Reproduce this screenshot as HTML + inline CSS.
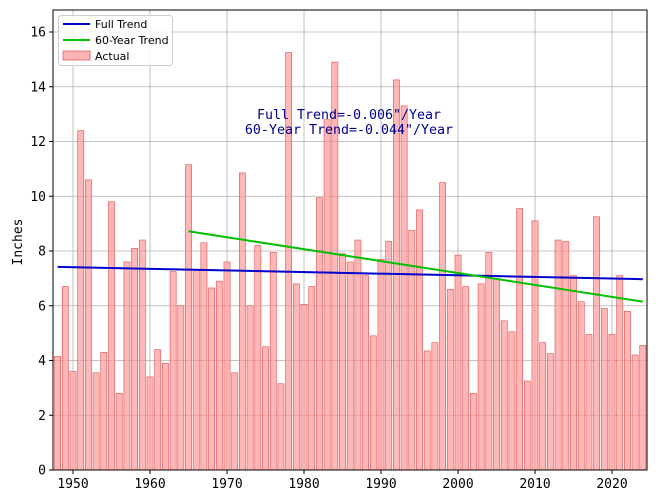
<!DOCTYPE html>
<html><head><style>
body{margin:0;background:#fff;}
svg text{font-family:"DejaVu Sans Mono","Liberation Mono",monospace;}
</style></head><body>
<svg id="s" width="660" height="495" xmlns="http://www.w3.org/2000/svg">
<rect width="660" height="495" fill="#fff"/>
<g id="grid"></g>
<g id="bars"></g>
<g id="lines"></g>
<rect x="53" y="10" width="594" height="460" fill="none" stroke="#000" stroke-width="1"/>
<g id="ticks" font-size="13" fill="#000"></g>
<text x="22" y="242" font-size="13" transform="rotate(-90 22 242)" text-anchor="middle">Inches</text>
<text x="349" y="119" font-size="13.3" fill="#00008b" text-anchor="middle">Full Trend=-0.006"/Year</text>
<text x="349" y="134" font-size="13.3" fill="#00008b" text-anchor="middle">60-Year Trend=-0.044"/Year</text>
<g>
<rect x="58.5" y="15.5" width="114" height="50" rx="3" fill="#fff" fill-opacity="0.8" stroke="#ccc"/>
<line x1="63" y1="24" x2="90" y2="24" stroke="#0000cd" stroke-width="2"/>
<text x="95" y="28" font-size="11" style="font-family:'DejaVu Sans','Liberation Sans',sans-serif">Full Trend</text>
<line x1="63" y1="40" x2="90" y2="40" stroke="#00c000" stroke-width="2"/>
<text x="95" y="44" font-size="11" style="font-family:'DejaVu Sans','Liberation Sans',sans-serif">60-Year Trend</text>
<rect x="63" y="51" width="27" height="9" fill="#ffb3b3" stroke="#e06060" stroke-width="0.8"/>
<text x="95" y="60" font-size="11" style="font-family:'DejaVu Sans','Liberation Sans',sans-serif">Actual</text>
</g>
</svg>
<script>
var v=[4.15,6.7,3.6,12.4,10.6,3.55,4.3,9.8,2.8,7.6,8.1,8.4,3.4,4.4,3.9,7.25,6.0,11.15,7.3,8.3,6.65,6.9,7.6,3.55,10.85,6.0,8.2,4.5,7.95,3.15,15.25,6.8,6.05,6.7,9.95,12.8,14.9,7.9,7.6,8.4,7.1,4.9,7.7,8.35,14.25,13.3,8.75,9.5,4.35,4.65,10.5,6.6,7.85,6.7,2.8,6.8,7.95,7.0,5.45,5.05,9.55,3.25,9.1,4.65,4.25,8.4,8.35,7.1,6.15,4.95,9.25,5.9,4.95,7.1,5.8,4.2,4.55];
function X(y){return 53+(y-1947.4)*7.7;}
function Y(a){return 470-a*27.375;}
var NS="http://www.w3.org/2000/svg";
function el(p,t,a,txt){var e=document.createElementNS(NS,t);for(var k in a)e.setAttribute(k,a[k]);if(txt)e.textContent=txt;document.getElementById(p).appendChild(e);}
for(var y=1950;y<=2020;y+=10){el("grid","line",{x1:X(y),x2:X(y),y1:10,y2:470,stroke:"#b0b0b0","stroke-width":0.8});
el("ticks","line",{x1:X(y),x2:X(y),y1:470,y2:474,stroke:"#000"});
el("ticks","text",{x:X(y),y:488,"text-anchor":"middle"},""+y);}
for(var a=0;a<=16;a+=2){el("grid","line",{x1:53,x2:647,y1:Y(a),y2:Y(a),stroke:"#b0b0b0","stroke-width":0.8});
el("ticks","line",{x1:49,x2:53,y1:Y(a),y2:Y(a),stroke:"#000"});
el("ticks","text",{x:46,y:Y(a)+4.5,"text-anchor":"end"},""+a);}
for(var i=0;i<v.length;i++){var yr=1948+i;el("bars","rect",{x:X(yr)-3.08,y:Y(v[i]),width:6.16,height:v[i]*27.375,fill:"#ff9999","fill-opacity":0.7,stroke:"#e05050","stroke-width":0.6});}
el("lines","line",{x1:X(1948),y1:Y(7.42),x2:X(2024),y2:Y(6.97),stroke:"#0000cd","stroke-width":2});
el("lines","line",{x1:X(1965),y1:Y(8.72),x2:X(2024),y2:Y(6.15),stroke:"#00c000","stroke-width":2});
</script>
</body></html>
